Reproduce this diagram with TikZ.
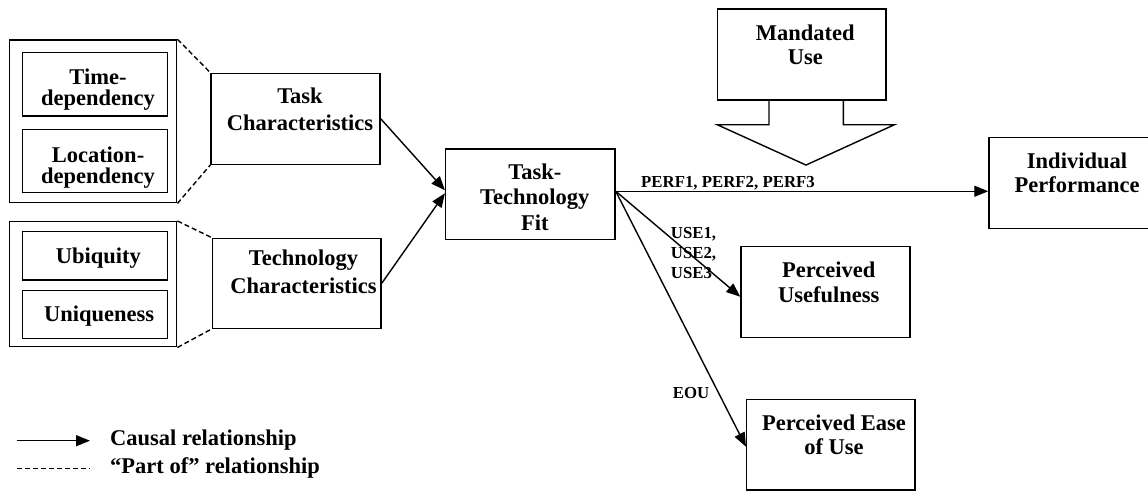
\documentclass[tikz,border=0pt]{standalone}
\usepackage{fontspec}
\setmainfont{Liberation Serif}
\usetikzlibrary{arrows.meta}
\begin{document}
\begin{tikzpicture}[x=1pt,y=-1pt,
 box/.style={draw, line width=1.5pt, inner sep=0pt},
 txt/.style={font=\bfseries\fontsize{22.5}{#1}\selectfont, align=center, inner sep=0pt, anchor=north},
 txt/.default=25,
 small/.style={font=\bfseries\fontsize{16.8}{20}\selectfont, inner sep=0pt},
 legtxt/.style={font=\bfseries\fontsize{22.5}{25}\selectfont, inner sep=0pt, anchor=base west},
 causal/.style={line width=1.4pt, -{Triangle[length=14pt,width=11pt]}},
 partof/.style={line width=1.4pt, dash pattern=on 5pt off 3pt}]
\fill[white] (0,0) rectangle (1148,501);
\useasboundingbox (0,0) rectangle (1148,501);

% left groups
\node[box, minimum width=167.4pt, minimum height=162.7pt] (o1) at (93,121.35) {};
\node[box, minimum width=145pt, minimum height=63.3pt] (time) at (95.2,84.35) {};
\node[box, minimum width=145pt, minimum height=63.4pt] (loc) at (95.2,161) {};
\node[box, minimum width=167.4pt, minimum height=125pt] (o2) at (93,284.2) {};
\node[box, minimum width=145pt, minimum height=48.3pt] (ubi) at (95.2,255.85) {};
\node[box, minimum width=145pt, minimum height=47.6pt] (uni) at (95.2,314.5) {};
\node[txt=21] (timet) at (98,68.3) {Time-\\dependency};
\node[txt=21] (loct) at (98,146.7) {Location-\\dependency};
\node[txt] (ubit) at (98.3,247.5) {Ubiquity};
\node[txt] (unit) at (99.2,305.7) {Uniqueness};

% main boxes
\node[box, minimum width=169pt, minimum height=91pt] (tc) at (295.5,118.8) {};
\node[txt=26.6] (tct) at (300,87.7) {Task\\Characteristics};
\node[box, minimum width=168.7pt, minimum height=90pt] (tech) at (296.65,283.3) {};
\node[txt=27.5] (techt) at (303.5,250) {Technology\\Characteristics};
\node[box, minimum width=169.3pt, minimum height=90.5pt] (ttf) at (530.35,194.25) {};
\node[txt=25.5] (ttft) at (534.8,163.3) {Task-\\Technology\\Fit};
\node[box, minimum width=168.5pt, minimum height=91pt] (mu) at (801.75,54.5) {};
\node[txt=23.3] (mut) at (805.3,25) {Mandated\\Use};
\node[box, minimum width=170pt, minimum height=91pt] (ip) at (1074,182.8) {};
\node[txt=24] (ipt) at (1077,152.7) {Individual\\Performance};
\node[box, minimum width=169pt, minimum height=91pt] (pu) at (825.5,292.2) {};
\node[txt=25] (put) at (828.8,261.7) {Perceived\\Usefulness};
\node[box, minimum width=168.3pt, minimum height=90.7pt] (peou) at (830.85,444.65) {};
\node[txt=24] (peout) at (834,414.3) {Perceived Ease\\of Use};

% mandated use block arrow
\draw[line width=1.4pt, line join=miter] (mu.south) ++(-32.75,0) -- ++(0,24) -- ++(-51.7,0) -- ++(88.7,40.3) -- ++(88.3,-40.3) -- ++(-51,0) -- ++(0,-24);

% part-of dashed lines
\draw[partof] (o1.north east) -- (tc.north west);
\draw[partof] (o1.south east) -- (tc.south west);
\draw[partof] (o2.north east) -- (tech.north west);
\draw[partof] (o2.south east) -- (tech.south west);

% causal arrows
\draw[causal] (tc.east) -- ([yshift=4pt]ttf.west);
\draw[causal] (tech.east) -- ([yshift=1pt]ttf.west);
\coordinate (o) at ([yshift=3pt]ttf.east);
\draw[causal] (o) -- (o -| ip.west);
\draw[causal] (o) -- ([yshift=-4.5pt]pu.west);
\draw[causal] (o) -- ([yshift=-2pt]peou.west);

% labels
\node[small, anchor=base west] (perf) at (641,187.5) {PERF1, PERF2, PERF3};
\node[small, anchor=north west, align=left] (use) at (670.7,227.5) {USE1,\\USE2,\\USE3};
\node[small, anchor=base west] (eou) at (672.7,398.3) {EOU};

% legend
\coordinate (la1) at (16.7,440.7);
\coordinate (la2) at (90,440.7);
\draw[causal] (la1) -- (la2);
\node[legtxt] (lc) at (110,445) {Causal relationship};
\coordinate (lb1) at (16.7,468.3);
\coordinate (lb2) at (90,468.3);
\draw[partof] (lb1) -- (lb2);
\node[legtxt] (lp) at (110,473.3) {“Part of” relationship};
\end{tikzpicture}
\end{document}
